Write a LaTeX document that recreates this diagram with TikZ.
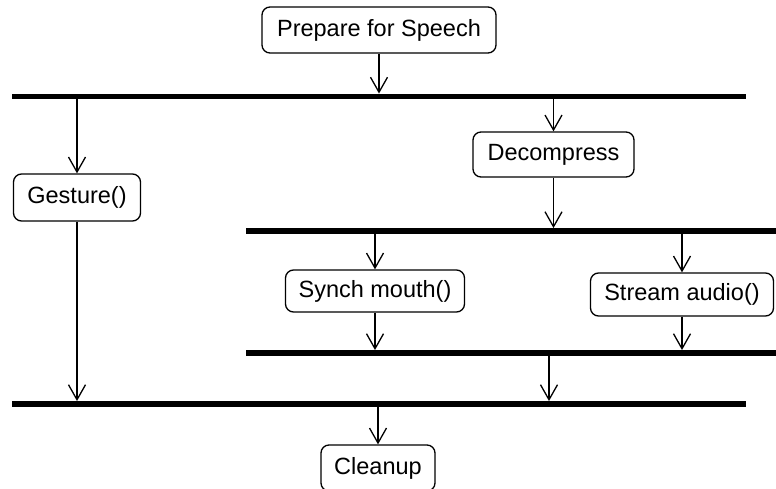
\documentclass[tikz,border=0pt]{standalone}
\usepackage{fontspec}
\setmainfont{Liberation Sans}
\usetikzlibrary{arrows.meta}
\begin{document}
\begin{tikzpicture}[x=1pt,y=-1pt,
  act/.style={draw,line width=1.3pt,rounded corners=8pt,inner sep=0pt,
    font=\fontsize{23.5}{28}\selectfont,anchor=center},
  bar/.style={fill=black,inner sep=0pt,minimum height=5.5pt},
  arr/.style={line width=1.4pt,-{Straight Barb[length=15pt,width=17pt,line width=1.3pt]}}]
\clip (0,0) rectangle (776,489);
\fill[white] (0,0) rectangle (776,489);
% activities
\node[act,minimum width=234pt,minimum height=46pt] (prep) at (379,30) {Prepare for Speech};
\node[act,minimum width=127pt,minimum height=47pt] (gest) at (77,197.5) {Gesture()};
\node[act,minimum width=161pt,minimum height=45pt] (dec) at (553.5,154.5) {Decompress};
\node[act,minimum width=179pt,minimum height=42pt] (syn) at (375,291) {Synch mouth()};
\node[act,minimum width=183pt,minimum height=43pt] (str) at (682,294.5) {Stream audio()};
\node[act,minimum width=114pt,minimum height=46pt] (cln) at (378,468) {Cleanup};
% bars
\node[bar,minimum width=734pt] (b1) at (379,96.5) {};
\node[bar,minimum width=530pt] (b2) at (511,231) {};
\node[bar,minimum width=530pt] (b3) at (511,353) {};
\node[bar,minimum width=734pt] (b4) at (379,404) {};
\coordinate (mid) at (549,353);
% connectors
\draw[arr] (prep.south) -- (prep.south |- b1.north);
\draw[arr] (b1.south -| gest) -- (gest.north);
\draw[arr] (b1.south -| dec) -- (dec.north);
\draw[arr] (dec.south) -- (dec.south |- b2.north);
\draw[arr] (b2.south -| syn) -- (syn.north);
\draw[arr] (b2.south -| str) -- (str.north);
\draw[arr] (syn.south) -- (syn.south |- b3.north);
\draw[arr] (str.south) -- (str.south |- b3.north);
\draw[arr] (b3.south -| mid) -- (mid |- b4.north);
\draw[arr] (gest.south) -- (gest.south |- b4.north);
\draw[arr] (b4.south -| cln) -- (cln.north);
\end{tikzpicture}
\end{document}
